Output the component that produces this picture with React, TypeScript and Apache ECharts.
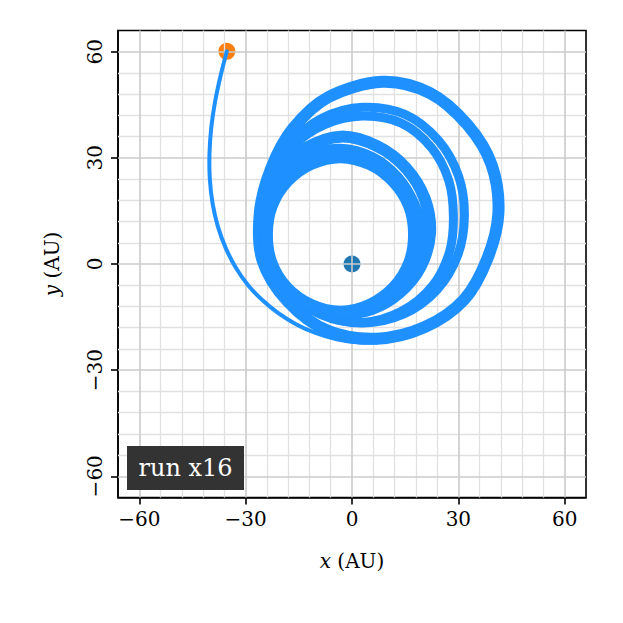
import React, { useEffect, useRef } from "react";
import * as echarts from "echarts";

// ---- data ----
const tickValues = [-60, -30, 0, 30, 60];
const minorGridValues = [-54, -48, -42, -36, -24, -18, -12, -6, 6, 12, 18, 24, 36, 42, 48, 54];

// escaping tail, from the orange marker down into the outer loop (open curve)
const tail: number[][] = [
  [-35.3, 60.1], [-37, 53.5], [-38.6, 46], [-39.7, 38.5], [-40.2, 31], [-40.1, 24],
  [-39.3, 17], [-37.8, 10.5], [-35.6, 4.5], [-32.8, -1], [-29.3, -6], [-25.3, -10.2],
  [-20.8, -13.9], [-15.8, -17], [-10.3, -19.5], [-4.3, -21.3], [2, -22.2], [7, -22.2],
];

// outer loop band (closed curve)
const ringA: number[][] = [
  [41.3, 14.5], [39.4, 28], [32.6, 39.3], [22, 48.3], [8.5, 51.5], [-6.6, 47.2],
  [-16.7, 38.2], [-22.85, 26.9], [-26, 14.5], [-25.25, 1.1], [-18.1, -10.6], [-6.8, -18.9],
  [7, -21.1], [20.4, -17.9], [31.6, -10.1], [38.2, 1.55],
];

// middle loop band (two closed loops)
const ringBOuter: number[][] = [
  [31.7, 13.5], [30.1, 24.7], [24.4, 34.9], [14.95, 42.3], [3, 44.3], [-8.5, 41.2],
  [-17.5, 34], [-23.3, 24.4], [-25.7, 13.5], [-24.1, 2.3], [-18.1, -7.6], [-8.6, -14.4],
  [3, -16.7], [14.5, -14.2], [23.9, -7.4], [29.8, 2.4],
];
const ringBInner: number[][] = [
  [28.6, 13.5], [27.3, 23.6], [22.4, 32.9], [13.9, 39.8], [3, 41.8], [-7.7, 39.4],
  [-16.7, 33.2], [-22.7, 24.1], [-25.2, 13.5], [-23.7, 2.4], [-17.9, -7.4], [-8.5, -14.2],
  [3, -16.5], [14.1, -13.3], [22.7, -6.2], [27.5, 3.4],
];

// inner thick band (three closed loops)
const ringC1: number[][] = [
  [17.5, 8.5], [16.07, 16.49], [11.65, 23.35], [4.98, 28.23], [-3.2, 30.2], [-11.42, 28.32],
  [-18.19, 23.49], [-22.6, 16.54], [-24, 8.5], [-22.74, 0.4], [-18.4, -6.7], [-11.53, -11.6],
  [-3.2, -13.5], [5.09, -11.5], [11.86, -6.56], [16.2, 0.46],
];
const ringC2: number[][] = [
  [19.8, 8.5], [17.31, 17], [12.71, 24.41], [5.69, 29.94], [-3.2, 32.3], [-12.32, 30.49],
  [-19.46, 24.76], [-23.53, 16.93], [-24.2, 8.5], [-22.97, 0.3], [-18.61, -6.91],
  [-11.63, -11.83], [-3.2, -13.7], [5.36, -12.15], [12.71, -7.41], [17.82, -0.21],
];
const ringC3: number[][] = [
  [22, 8.5], [20.55, 18.34], [15.32, 27.02], [7.08, 33.31], [-3.2, 36], [-13.22, 32.66],
  [-20.73, 26.03], [-24.5, 17.33], [-24.5, 8.5], [-23.2, 0.21], [-18.75, -7.05],
  [-11.7, -12.01], [-3.2, -13.9], [5.59, -12.71], [13.41, -8.11], [19.3, -0.83],
];

const centralBody: number[][] = [[0, 0]];
const currentPosition: number[][] = [[-35.3, 60.1]];
const runLabel = "run x16";

const FONT = "DejaVu Serif";
const ORBIT = "#1E90FF";

const fmt = (v: number) => (v < 0 ? "\u2212" + Math.abs(v) : String(v));

function makeAxis(dim: "x" | "y") {
  const isX = dim === "x";
  return {
    type: "value",
    min: -66,
    max: 66,
    interval: 6,
    name: `{i|${dim}} (AU)`,
    nameLocation: "middle",
    nameGap: isX ? 53 : 56,
    nameRotate: isX ? 0 : 90,
    nameTextStyle: {
      fontFamily: FONT,
      fontSize: 20,
      color: "#000",
      rich: { i: { fontFamily: FONT, fontSize: 20, fontStyle: "italic", color: "#000" } },
    },
    axisLine: { show: true, onZero: false, lineStyle: { color: "#000", width: 1.6 } },
    axisTick: {
      show: true,
      customValues: tickValues,
      length: 7,
      inside: false,
      lineStyle: { color: "#000", width: 1.6 },
    },
    axisLabel: {
      show: true,
      customValues: tickValues,
      formatter: (v: number) => fmt(v),
      fontFamily: FONT,
      fontSize: 20,
      color: "#000",
      margin: isX ? 11 : 13,
      rotate: isX ? 0 : 90,
    },
    splitLine: { show: false },
  };
}

// smooth curve through data points (mapped with the chart's scales)
function curvePath(px: number[][], closed: boolean): string {
  const n = px.length;
  const get = (i: number) => {
    if (closed) return px[((i % n) + n) % n];
    return px[Math.max(0, Math.min(n - 1, i))];
  };
  let d = `M${px[0][0]},${px[0][1]}`;
  const segs = closed ? n : n - 1;
  for (let i = 0; i < segs; i++) {
    const p0 = get(i - 1), p1 = get(i), p2 = get(i + 1), p3 = get(i + 2);
    const c1x = p1[0] + (p2[0] - p0[0]) / 6;
    const c1y = p1[1] + (p2[1] - p0[1]) / 6;
    const c2x = p2[0] - (p3[0] - p1[0]) / 6;
    const c2y = p2[1] - (p3[1] - p1[1]) / 6;
    d += ` C${c1x},${c1y} ${c2x},${c2y} ${p2[0]},${p2[1]}`;
  }
  if (closed) d += " Z";
  return d;
}

function curveSeries(points: number[][], width: number, closed: boolean) {
  return {
    type: "custom",
    coordinateSystem: "cartesian2d",
    silent: true,
    z: 3,
    clip: false,
    data: [points[0]],
    renderItem: (_params: any, api: any) => {
      const px = points.map((p) => api.coord(p));
      return {
        type: "path",
        shape: { pathData: curvePath(px, closed) },
        style: {
          fill: "none",
          stroke: ORBIT,
          lineWidth: width,
          lineCap: "round",
          lineJoin: "round",
        },
      };
    },
  };
}

export default function App() {
  const ref = useRef<HTMLDivElement>(null);

  useEffect(() => {
    if (!ref.current) return;
    const chart = echarts.init(ref.current, null, { renderer: "svg" });

    const gridLines = (values: number[]) => [
      ...values.map((v) => ({ xAxis: v })),
      ...values.map((v) => ({ yAxis: v })),
    ];

    chart.setOption({
      animation: false,
      grid: {
        left: 118,
        top: 30.5,
        width: 468,
        height: 467,
        show: true,
        borderColor: "#000",
        borderWidth: 1.6,
        backgroundColor: "transparent",
      },
      xAxis: makeAxis("x"),
      yAxis: makeAxis("y"),
      series: [
        {
          type: "scatter",
          data: centralBody,
          symbolSize: 17,
          silent: true,
          z: -1,
          itemStyle: { color: "#1f77b4", opacity: 1 },
        },
        {
          type: "scatter",
          data: currentPosition,
          symbolSize: 17,
          silent: true,
          z: -1,
          itemStyle: { color: "#ff7f0e", opacity: 1 },
        },
        {
          type: "line",
          data: [],
          silent: true,
          z: 1,
          markLine: {
            silent: true,
            z: 1,
            symbol: ["none", "none"],
            label: { show: false },
            lineStyle: { color: "#e1e1e1", width: 1.3, type: "solid" },
            emphasis: { disabled: true },
            data: gridLines(minorGridValues),
          },
        },
        {
          type: "line",
          data: [],
          silent: true,
          z: 1,
          markLine: {
            silent: true,
            z: 1,
            symbol: ["none", "none"],
            label: { show: false },
            lineStyle: { color: "#cbcbcb", width: 1.6, type: "solid" },
            emphasis: { disabled: true },
            data: gridLines(tickValues),
          },
        },
        curveSeries(ringA, 12, true),
        curveSeries(ringBOuter, 9, true),
        curveSeries(ringBInner, 9, true),
        curveSeries(ringC3, 12, true),
        curveSeries(ringC2, 12, true),
        curveSeries(ringC1, 12, true),
        curveSeries(tail, 4, false),
      ],
      graphic: [
        {
          type: "group",
          left: 127,
          top: 446,
          z: 100,
          children: [
            {
              type: "rect",
              z: 100,
              shape: { x: 0, y: 0, width: 117, height: 44 },
              style: { fill: "#333333" },
            },
            {
              type: "text",
              z: 101,
              x: 58.5,
              y: 22,
              style: {
                text: runLabel,
                fontFamily: FONT,
                fontSize: 24,
                fill: "#ffffff",
                align: "center",
                verticalAlign: "middle",
              },
            },
          ],
        },
      ],
    });

    return () => chart.dispose();
  }, []);

  return (
    <div
      ref={ref}
      style={{ position: "absolute", left: 0, top: 0, width: 623, height: 623, background: "#fff" }}
    />
  );
}
